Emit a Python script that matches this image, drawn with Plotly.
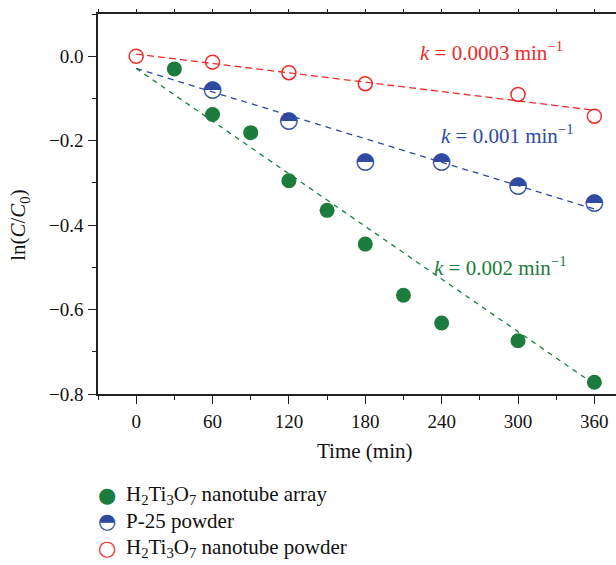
import plotly.graph_objects as go

# ---------------- data ----------------
time_array = [30, 60, 90, 120, 150, 180, 210, 240, 300, 360]
array_vals = [-0.030, -0.138, -0.181, -0.295, -0.365, -0.445, -0.566, -0.632, -0.674, -0.772]

time_p25 = [60, 120, 180, 240, 300, 360]
p25_vals = [-0.081, -0.154, -0.252, -0.250, -0.309, -0.348]

time_powder = [0, 60, 120, 180, 300, 360]
powder_vals = [0.0, -0.014, -0.039, -0.065, -0.0905, -0.142]

fit_x = [0, 360]
array_fit = [-0.029, -0.777]
p25_fit = [-0.029, -0.362]
powder_fit = [0.005, -0.128]

x_ticks = [0, 60, 120, 180, 240, 300, 360]
x_ticktext = ["0", "60", "120", "180", "240", "300", "360"]

legend_labels = ["H<sub>2</sub>Ti<sub>3</sub>O<sub>7</sub> nanotube array",
                 "P-25 powder",
                 "H<sub>2</sub>Ti<sub>3</sub>O<sub>7</sub> nanotube powder"]
rate_labels = ["<i>k</i> = 0.002 min<sup>\u22121</sup>",
               "<i>k</i> = 0.001 min<sup>\u22121</sup>",
               "<i>k</i> = 0.0003 min<sup>\u22121</sup>"]
rate_pos = [(286, -0.497), (291, -0.185), (279, 0.012)]

GREEN = "#1b7c3d"
BLUE = "#2e4ba1"
RED = "#ee2b2b"
SERIF = "Liberation Serif"
AXC = "#222222"

W, H = 616, 565
L, R, T, B = 97.7, 616, 14, 394.5


def paper(px, py):
    return (px - L) / (R - L), (B - py) / (B - T)


fig = go.Figure()

fig.add_trace(go.Scatter(x=fit_x, y=powder_fit, mode="lines",
                         line=dict(color=RED, width=1.3, dash="7px,4px"), showlegend=False))
fig.add_trace(go.Scatter(x=fit_x, y=p25_fit, mode="lines",
                         line=dict(color=BLUE, width=1.3, dash="6px,5px"), showlegend=False))
fig.add_trace(go.Scatter(x=fit_x, y=array_fit, mode="lines",
                         line=dict(color=GREEN, width=1.3, dash="5px,5px"), showlegend=False))

fig.add_trace(go.Scatter(x=time_array, y=array_vals, mode="markers",
                         marker=dict(symbol="circle", size=15, color=GREEN),
                         showlegend=False))
fig.add_trace(go.Scatter(x=time_p25, y=p25_vals, mode="text", text=["\u25d3"] * len(time_p25),
                         textposition="middle center",
                         textfont=dict(family="DejaVu Sans", size=23, color=BLUE),
                         showlegend=False))
fig.add_trace(go.Scatter(x=time_powder, y=powder_vals, mode="markers",
                         marker=dict(symbol="circle-open", size=14, color=RED,
                                     line=dict(width=1.5, color=RED)),
                         showlegend=False))

# invisible trace to enable top axis
fig.add_trace(go.Scatter(x=fit_x, y=fit_x, xaxis="x2", mode="markers",
                         marker=dict(opacity=0), showlegend=False, hoverinfo="skip"))

ann = []
colors = [GREEN, BLUE, RED]
for txt, (ax, ay), c in zip(rate_labels, rate_pos, colors):
    ann.append(dict(x=ax, y=ay, xref="x", yref="y", text=txt, showarrow=False,
                    font=dict(family=SERIF, size=21, color=c), xanchor="center", yanchor="middle"))

# axis titles
tx, ty = paper(364, 452)
ann.append(dict(x=tx, y=ty, xref="paper", yref="paper", text="Time (min)", showarrow=False,
                font=dict(family=SERIF, size=21, color="#111"), xanchor="center", yanchor="middle"))
yx, yy = paper(18.8, 225)
ann.append(dict(x=yx, y=yy, xref="paper", yref="paper",
                text="ln(<i>C</i>/<i>C</i><sub>0</sub>)", textangle=-90, showarrow=False,
                font=dict(family=SERIF, size=21, color="#111"), xanchor="center", yanchor="middle"))

# legend built from annotations
leg_symbols = ["\u25cf", "\u25d3", "\u25cb"]
leg_y = [495.7, 521.7, 548.3]
for sym, lab, c, py in zip(leg_symbols, legend_labels, colors, leg_y):
    sx, sy = paper(106.5, py)
    ann.append(dict(x=sx, y=sy, xref="paper", yref="paper", text=sym, showarrow=False,
                    font=dict(family="DejaVu Sans", size=21, color=c),
                    xanchor="center", yanchor="middle"))
    lx, ly = paper(123.5, py)
    ann.append(dict(x=lx, y=ly, xref="paper", yref="paper", text=lab, showarrow=False,
                    font=dict(family=SERIF, size=21, color="#111"),
                    xanchor="left", yanchor="middle"))

fig.update_layout(
    width=W, height=H,
    margin=dict(l=L, r=W - R, t=T, b=H - B, pad=0),
    paper_bgcolor="white", plot_bgcolor="white",
    showlegend=False,
    annotations=ann,
    xaxis=dict(range=[-30, 377], tickmode="array", tickvals=x_ticks, ticktext=x_ticktext,
               ticks="outside", ticklen=8, tickwidth=1.3, tickcolor=AXC,
               showline=True, linecolor=AXC, linewidth=1.5, showgrid=False, zeroline=False,
               tickfont=dict(family=SERIF, size=19, color="#111"), ticklabelstandoff=1,
               minor=dict(dtick=30, tick0=0, ticks="outside", ticklen=4, tickwidth=1.2,
                          tickcolor=AXC, showgrid=False)),
    xaxis2=dict(range=[-30, 377], overlaying="x", side="top", dtick=30, tick0=0,
                ticks="outside", ticklen=3, tickwidth=1.2, tickcolor=AXC,
                showticklabels=False, showline=True, linecolor=AXC, linewidth=1.5,
                showgrid=False, zeroline=False),
    yaxis=dict(range=[-0.8, 0.1], dtick=0.2, tick0=0, tickformat=".1f",
               ticks="outside", ticklen=8, tickwidth=1.3, tickcolor=AXC,
               showline=True, linecolor=AXC, linewidth=1.5, showgrid=False, zeroline=False,
               tickfont=dict(family=SERIF, size=19, color="#111"), ticklabelstandoff=1,
               minor=dict(dtick=0.1, tick0=0, ticks="outside", ticklen=4, tickwidth=1.2,
                          tickcolor=AXC, showgrid=False)),
)

fig.write_html("out.html", config={"displayModeBar": False},
               post_script="document.body.style.margin='0';")
